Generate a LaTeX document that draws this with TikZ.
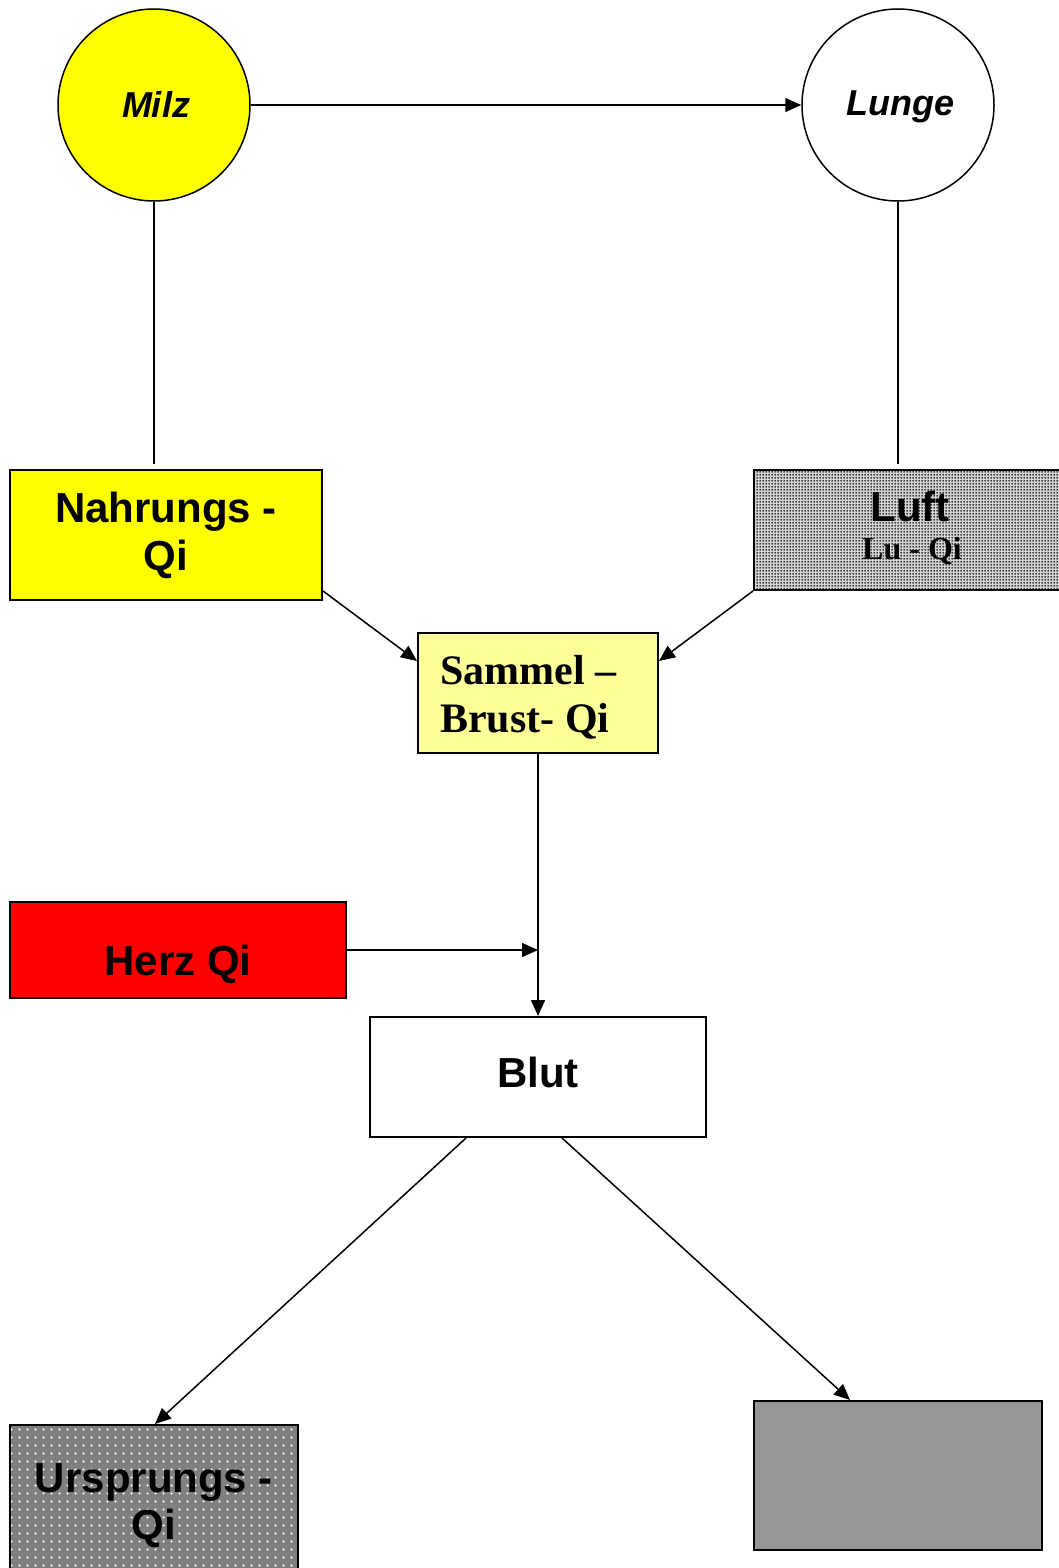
\documentclass[tikz,border=0pt]{standalone}
\usepackage{fontspec}
\setmainfont{Liberation Sans}
\newfontfamily\timesfont{Liberation Serif}
\usetikzlibrary{arrows.meta,calc,patterns}

\definecolor{spleenyellow}{HTML}{FFFF00}
\definecolor{heartred}{HTML}{FF0000}
\definecolor{paleyellow}{HTML}{FFFF99}
\definecolor{midgrey}{HTML}{969696}
\definecolor{airgrey}{HTML}{D4D4D4}

% fine dark dots for the air-qi box
\pgfdeclarepatternformonly{finedots}{\pgfqpoint{0pt}{0pt}}{\pgfqpoint{3pt}{3pt}}{\pgfqpoint{3pt}{3pt}}%
  {\pgfpathcircle{\pgfqpoint{1.5pt}{1.5pt}}{1.15pt}\pgfusepath{fill}}
% sparse light dots for the source-qi box
\pgfdeclarepatternformonly{sparsedots}{\pgfqpoint{0pt}{0pt}}{\pgfqpoint{8pt}{8pt}}{\pgfqpoint{8pt}{8pt}}%
  {\pgfpathcircle{\pgfqpoint{4pt}{4pt}}{1.3pt}\pgfusepath{fill}}

\begin{document}
\begin{tikzpicture}[x=1pt,y=-1pt,
  conn/.style={line width=1.5pt},
  arr/.style={conn,-{Triangle[length=16pt,width=14pt]}},
  organ/.style={circle,draw,line width=1.5pt,minimum size=192pt,inner sep=0pt},
  qibox/.style={rectangle,draw,line width=2pt,inner sep=0pt},
  lbl/.style={anchor=base,inner sep=0pt,font=\fontsize{42}{48}\selectfont\bfseries},
  organlbl/.style={anchor=base,inner sep=0pt,font=\fontsize{36}{42}\selectfont\bfseries\itshape},
  serlbl/.style={anchor=base west,inner sep=0pt,font=\fontsize{42}{48}\selectfont\timesfont\bfseries},
  smallser/.style={anchor=base,inner sep=0pt,font=\fontsize{32}{36}\selectfont\timesfont\bfseries}]
\clip (0,0) rectangle (1059,1568);

% organs
\node[organ,fill=spleenyellow] (milz) at (154,105) {};
\node[organ,fill=white] (lunge) at (898,105) {};

% qi boxes
\node[qibox,fill=spleenyellow,minimum width=312pt,minimum height=130pt] (nahr) at (166,535) {};
\node[qibox,preaction={fill=airgrey},pattern=finedots,minimum width=310pt,minimum height=120pt] (luft) at (909,530) {};
\node[qibox,fill=paleyellow,minimum width=240pt,minimum height=120pt] (sammel) at (538,693) {};
\node[qibox,fill=heartred,minimum width=336pt,minimum height=96pt] (herz) at (178,950) {};
\node[qibox,fill=white,minimum width=336pt,minimum height=120pt] (blut) at (538,1077) {};
\node[qibox,preaction={fill=black!50},pattern=sparsedots,pattern color=white,minimum width=288pt,minimum height=150pt] (urs) at (154,1500) {};
\node[qibox,fill=midgrey,minimum width=288pt,minimum height=149pt] (grau) at (898,1475.5) {};

% labels
\node[organlbl] (tmilz) at (156,118) {Milz};
\node[organlbl] (tlunge) at (900,116) {Lunge};
\node[lbl] (tnahr1) at (166,522) {Nahrungs -};
\node[lbl] (tnahr2) at (166,570) {Qi};
\node[lbl] (tluft1) at (910,521) {Luft};
\node[smallser] (tluft2) at (912,559) {Lu - Qi};
\node[serlbl] (tsam1) at (440,684) {Sammel –};
\node[serlbl] (tsam2) at (440,732) {Brust- Qi};
\node[lbl] (therz) at (178,975) {Herz Qi};
\node[lbl] (tblut) at (538,1087) {Blut};
\node[lbl] (turs1) at (154,1492) {Ursprungs -};
\node[lbl] (turs2) at (154,1539) {Qi};

% connectors
\draw[arr] (milz.east) -- (lunge.west);
\draw[conn] (milz.south) -- ($(milz.south |- nahr.north)+(0,-5)$);
\draw[conn] (lunge.south) -- ($(lunge.south |- luft.north)+(0,-5)$);
\draw[arr] ($(nahr.south east)+(0,-10)$) -- ($(sammel.west)+(0,-32)$);
\draw[arr] (luft.south west) -- ($(sammel.east)+(0,-32)$);
\draw[arr] (sammel.south) -- (blut.north);
\coordinate (join) at (sammel.south |- herz.east);
\draw[arr] (herz.east) -- (join);
\draw[arr] ($(blut.south)+(-72,0)$) -- ($(urs.north)+(1,0)$);
\draw[arr] ($(blut.south)+(24,0)$) -- ($(grau.north)+(-48,0)$);
\end{tikzpicture}
\end{document}
